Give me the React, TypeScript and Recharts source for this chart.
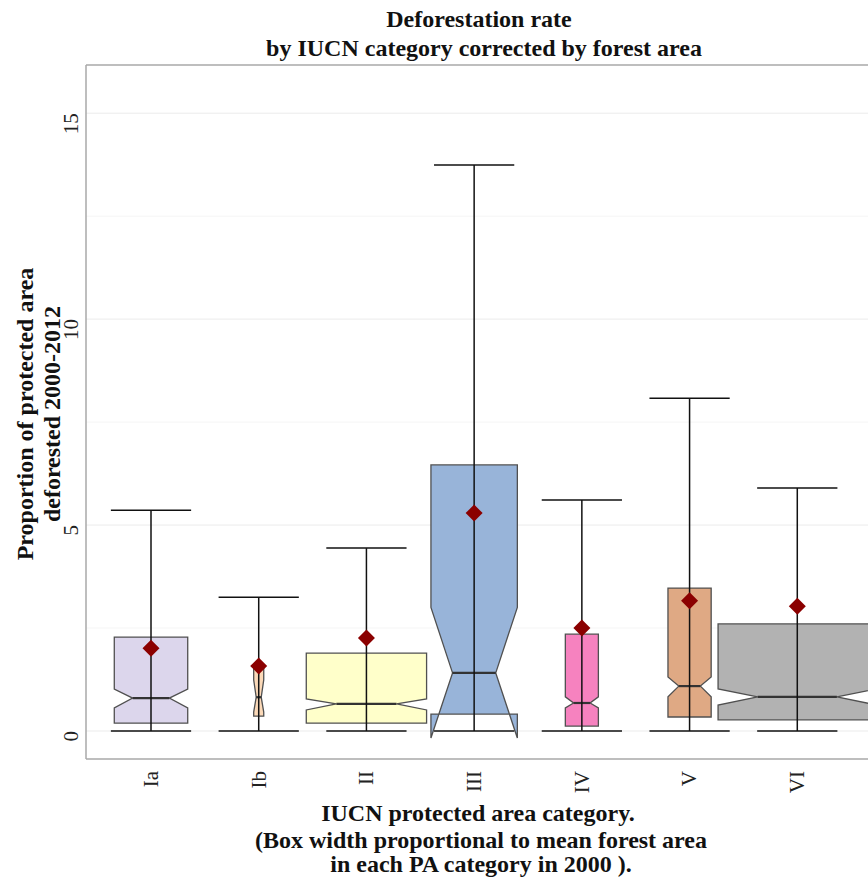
import React from 'react';
import { Bar, CartesianGrid, ComposedChart, XAxis, YAxis, ReferenceLine } from 'recharts';

const categories = ['Ia', 'Ib', 'II', 'III', 'IV', 'V', 'VI'];
const whiskerLow = [0, 0, 0, 0, 0, 0, 0];
const whiskerHigh = [5.36, 3.25, 4.44, 13.74, 5.61, 8.08, 5.9];
const q1 = [0.19, 0.36, 0.19, 0.41, 0.12, 0.34, 0.27];
const median = [0.8, 0.82, 0.66, 1.41, 0.68, 1.09, 0.83];
const q3 = [2.28, 1.55, 1.89, 6.46, 2.35, 3.47, 2.6];
const notchLow = [0.56, 0.46, 0.51, -0.17, 0.56, 0.83, 0.63];
const notchHigh = [1.02, 1.24, 0.78, 3.0, 0.83, 1.31, 1.02];
const means = [2.01, 1.58, 2.26, 5.29, 2.5, 3.16, 3.03];
// box width relative to category spacing (proportional to mean forest area)
const relWidth = [0.68, 0.093, 1.114, 0.8, 0.306, 0.4, 1.467];
const fills = ['#DCD6EC', '#FBD9B8', '#FFFFCA', '#98B4D9', '#F682BF', '#DFA984', '#B2B2B2'];

const yTicks = [0, 5, 10, 15];
const yMinor = [2.5, 7.5, 12.5];
const Y_MIN = -0.68;
const Y_MAX = 16.17;

const data = categories.map((name, i) => ({
  name,
  range: [whiskerLow[i], whiskerHigh[i]],
  low: whiskerLow[i],
  high: whiskerHigh[i],
  q1: q1[i],
  median: median[i],
  q3: q3[i],
  notchLow: notchLow[i],
  notchHigh: notchHigh[i],
  mean: means[i],
  relWidth: relWidth[i],
  fill: fills[i],
}));

const FONT = '"Liberation Serif", "Times New Roman", serif';

function BoxShape(props: any) {
  const { x, y, width, height, payload } = props;
  if (!payload || !height) return null;
  const k = height / (payload.high - payload.low);
  const py = (v: number) => y + height - (v - payload.low) * k;
  const cx = x + width / 2;
  const bw = (payload.relWidth * width) / 2;
  const nw = bw / 2;
  const cap = (0.743 * width) / 2;
  const pts = [
    [cx - bw, py(payload.q3)],
    [cx - bw, py(payload.notchHigh)],
    [cx - nw, py(payload.median)],
    [cx - bw, py(payload.notchLow)],
    [cx - bw, py(payload.q1)],
    [cx + bw, py(payload.q1)],
    [cx + bw, py(payload.notchLow)],
    [cx + nw, py(payload.median)],
    [cx + bw, py(payload.notchHigh)],
    [cx + bw, py(payload.q3)],
  ];
  const my = py(payload.mean);
  return (
    <g>
      <polygon
        points={pts.map((p) => p.join(',')).join(' ')}
        fill={payload.fill}
        stroke="#505050"
        strokeWidth={1.3}
      />
      <line x1={cx - nw} x2={cx + nw} y1={py(payload.median)} y2={py(payload.median)} stroke="#333" strokeWidth={2.2} />
      <line x1={cx} x2={cx} y1={py(payload.low)} y2={py(payload.high)} stroke="#111" strokeWidth={1.5} />
      <line x1={cx - cap} x2={cx + cap} y1={py(payload.high)} y2={py(payload.high)} stroke="#111" strokeWidth={1.5} />
      <line x1={cx - cap} x2={cx + cap} y1={py(payload.low)} y2={py(payload.low)} stroke="#111" strokeWidth={1.5} />
      <polygon
        points={`${cx},${my - 8.5} ${cx + 8.5},${my} ${cx},${my + 8.5} ${cx - 8.5},${my}`}
        fill="#8B0000"
      />
    </g>
  );
}

function YTick({ y, payload }: any) {
  return (
    <text
      transform={`translate(71, ${y}) rotate(-90)`}
      textAnchor="end"
      dominantBaseline="central"
      fontFamily={FONT}
      fontSize={21}
      fill="#222"
    >
      {payload.value}
    </text>
  );
}

function XTick({ x, payload }: any) {
  return (
    <text
      transform={`translate(${x}, 771) rotate(-90)`}
      textAnchor="end"
      dominantBaseline="central"
      fontFamily={FONT}
      fontSize={21}
      fill="#222"
    >
      {payload.value}
    </text>
  );
}

export default function App() {
  return (
    <div
      style={{
        position: 'fixed',
        left: 0,
        top: 0,
        width: 868,
        height: 877,
        overflow: 'hidden',
        background: '#fff',
      }}
    >
      <ComposedChart
        width={920}
        height={877}
        data={data}
        margin={{ top: 65, right: 20, bottom: 0, left: 0 }}
        barCategoryGap={0}
      >
        <CartesianGrid horizontalValues={yMinor} vertical={false} stroke="#F5F5F5" strokeWidth={1} />
        <CartesianGrid horizontalValues={yTicks} vertical={false} stroke="#EBEBEB" strokeWidth={1} />
        <XAxis
          dataKey="name"
          height={118}
          padding={{ left: 11, right: 49 }}
          tickLine={false}
          axisLine={{ stroke: '#A8A8A8', strokeWidth: 1.5 }}
          tick={<XTick />}
          interval={0}
        />
        <YAxis
          width={86}
          type="number"
          domain={[Y_MIN, Y_MAX]}
          ticks={yTicks}
          allowDataOverflow
          tickLine={false}
          axisLine={{ stroke: '#A8A8A8', strokeWidth: 1.5 }}
          tick={<YTick />}
        />
        <ReferenceLine y={Y_MAX} stroke="#A8A8A8" strokeWidth={1.5} />
        <Bar dataKey="range" shape={<BoxShape />} isAnimationActive={false} />
      </ComposedChart>
      <svg
        width={868}
        height={877}
        style={{ position: 'absolute', left: 0, top: 0, pointerEvents: 'none' }}
      >
        <g fontFamily={FONT} fontWeight="bold" fontSize={24} fill="#111" textAnchor="middle">
          <text x={479} y={27}>Deforestation rate</text>
          <text x={484} y={56}>by IUCN category corrected by forest area</text>
          <text x={478} y={821}>IUCN protected area category.</text>
          <text x={481} y={848}>(Box width proportional to mean forest area</text>
          <text x={481} y={872}>in each PA category in 2000 ).</text>
          <text transform="translate(33, 414) rotate(-90)">Proportion of protected area</text>
          <text transform="translate(60, 414) rotate(-90)">deforested 2000-2012</text>
        </g>
      </svg>
    </div>
  );
}
